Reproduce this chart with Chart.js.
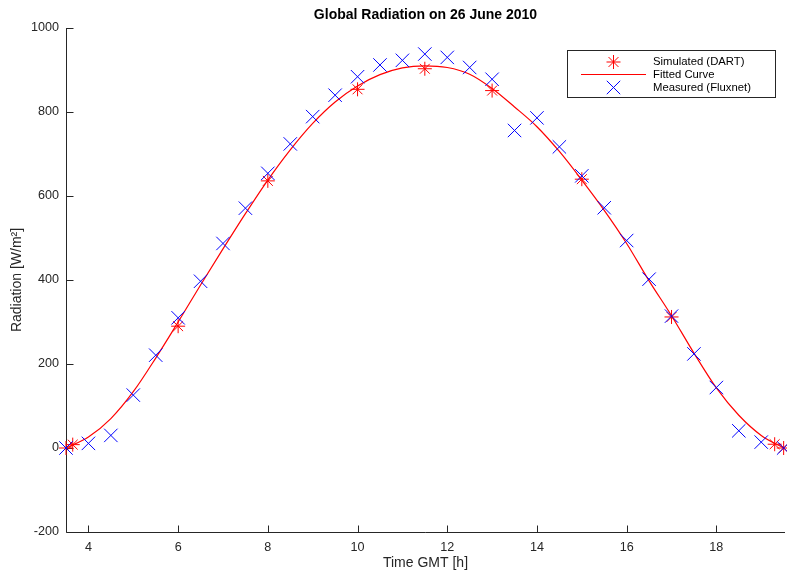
<!DOCTYPE html>
<html><head><meta charset="utf-8">
<script src="https://cdn.jsdelivr.net/npm/chart.js@4/dist/chart.umd.min.js"></script>
<style>html,body{margin:0;padding:0;background:#fff}#wrap{width:787px;height:573px}</style>
</head><body><div id="wrap"><canvas id="c" width="787" height="573"></canvas></div>
<script>
const chartTitle = 'Global Radiation on 26 June 2010';
const xAxisLabel = 'Time GMT [h]';
const yAxisLabel = 'Radiation [W/m²]';
const xTickValues = [4, 6, 8, 10, 12, 14, 16, 18];
const yTickValues = [-200, 0, 200, 400, 600, 800, 1000];
const seriesNames = ['Simulated (DART)', 'Fitted Curve', 'Measured (Fluxnet)'];

const simTimes  = [3.5, 3.65, 6, 8, 10, 11.5, 13, 15, 17, 19.3, 19.5];
const simValues = [0, 8, 290, 636, 854, 903, 851, 640, 312, 9, 0];

const fitTimes  = [3.5, 4, 4.5, 5, 5.5, 6, 6.5, 7, 7.5, 8, 8.5, 9, 9.5, 10, 10.5, 11, 11.5,
                   12, 12.5, 13, 13.5, 14, 14.5, 15, 15.5, 16, 16.5, 17, 17.5, 18, 18.5, 19, 19.5];
const fitValues = [0, 26, 70, 134, 214, 300, 388, 474, 558, 638, 710, 773, 824, 862, 889, 905, 910,
                   906, 890, 856, 812, 765, 706, 638, 566, 487, 398, 315, 226, 143, 78, 30, 0];

const measTimes  = [3.5, 4, 4.5, 5, 5.5, 6, 6.5, 7, 7.5, 8, 8.5, 9, 9.5, 10, 10.5, 11, 11.5,
                    12, 12.5, 13, 13.5, 14, 14.5, 15, 15.5, 16, 16.5, 17, 17.5, 18, 18.5, 19, 19.5];
const measValues = [0, 11, 30, 126, 221, 310, 397, 487, 571, 654, 724, 789, 840, 884, 912, 923, 938,
                    930, 906, 878, 756, 786, 717, 648, 572, 494, 402, 314, 224, 144, 41, 14, 0];

const FONT = '"Liberation Sans", Arial, Helvetica, sans-serif';
const AX = '#262626';
const RED = '#ff0000';
const BLUE = '#0000ff';

const toXY = (xs, ys) => xs.map((x, i) => ({x: x, y: ys[i]}));

const axesPlugin = {
  id: 'matlabAxes',
  beforeDatasetsDraw(chart) {
    const {ctx, chartArea: {left, right, top, bottom}, scales: {x, y}} = chart;
    ctx.save();
    ctx.strokeStyle = AX;
    ctx.lineWidth = 1;
    ctx.beginPath();
    const lx = Math.round(left) + 0.5, by = Math.round(bottom) + 0.5;
    ctx.moveTo(lx, top);
    ctx.lineTo(lx, by);
    ctx.lineTo(right, by);
    x.ticks.forEach(t => {
      const px = Math.round(x.getPixelForValue(t.value)) + 0.5;
      ctx.moveTo(px, by); ctx.lineTo(px, by - 7);
    });
    y.ticks.forEach(t => {
      const py = Math.round(y.getPixelForValue(t.value)) + 0.5;
      ctx.moveTo(lx, py); ctx.lineTo(lx + 7, py);
    });
    ctx.stroke();
    ctx.restore();
  }
};

function drawStar(ctx, cx, cy, r) {
  const d = r * Math.SQRT1_2;
  ctx.beginPath();
  ctx.moveTo(cx - r, cy); ctx.lineTo(cx + r, cy);
  ctx.moveTo(cx, cy - r); ctx.lineTo(cx, cy + r);
  ctx.moveTo(cx - d, cy - d); ctx.lineTo(cx + d, cy + d);
  ctx.moveTo(cx - d, cy + d); ctx.lineTo(cx + d, cy - d);
  ctx.stroke();
}
function drawX(ctx, cx, cy, r) {
  const d = r * Math.SQRT1_2;
  ctx.beginPath();
  ctx.moveTo(cx - d, cy - d); ctx.lineTo(cx + d, cy + d);
  ctx.moveTo(cx - d, cy + d); ctx.lineTo(cx + d, cy - d);
  ctx.stroke();
}

const legendPlugin = {
  id: 'matlabLegend',
  afterDraw(chart) {
    const ctx = chart.ctx;
    ctx.save();
    ctx.fillStyle = '#fff';
    ctx.fillRect(567.5, 50.5, 208, 47);
    ctx.strokeStyle = AX;
    ctx.lineWidth = 1;
    ctx.strokeRect(567.5, 50.5, 208, 47);
    const rows = [62, 74.5, 87.5];
    const ds = chart.data.datasets;
    ctx.strokeStyle = RED; ctx.lineWidth = 1;
    drawStar(ctx, 613.5, rows[0], 7);
    ctx.beginPath(); ctx.moveTo(581, rows[1]); ctx.lineTo(646, rows[1]); ctx.stroke();
    ctx.strokeStyle = BLUE;
    drawX(ctx, 613.5, rows[2], 9.5);
    ctx.fillStyle = '#000';
    ctx.font = '11.3px ' + FONT;
    ctx.textBaseline = 'middle';
    ctx.textAlign = 'left';
    const labels = [ds[2].label, ds[1].label, ds[0].label];
    labels.forEach((l, i) => ctx.fillText(l, 653, rows[i]));
    ctx.restore();
  }
};

new Chart(document.getElementById('c'), {
  type: 'scatter',
  data: {
    datasets: [
      {
        label: seriesNames[2],
        data: toXY(measTimes, measValues),
        showLine: false,
        pointStyle: 'crossRot',
        pointRadius: 9.5,
        pointHoverRadius: 9.5,
        borderColor: BLUE,
        backgroundColor: BLUE,
        pointBorderColor: BLUE,
        borderWidth: 1,
        clip: false
      },
      {
        label: seriesNames[1],
        data: toXY(fitTimes, fitValues),
        showLine: true,
        cubicInterpolationMode: 'monotone',
        pointRadius: 0,
        pointHoverRadius: 0,
        borderColor: RED,
        backgroundColor: RED,
        borderWidth: 1.2,
        fill: false,
        clip: false
      },
      {
        label: seriesNames[0],
        data: toXY(simTimes, simValues),
        showLine: false,
        pointStyle: 'star',
        pointRadius: 7,
        pointHoverRadius: 7,
        borderColor: RED,
        backgroundColor: RED,
        pointBorderColor: RED,
        borderWidth: 1,
        clip: false
      }
    ]
  },
  options: {
    responsive: false,
    animation: false,
    devicePixelRatio: 1,
    events: [],
    layout: {autoPadding: false, padding: {top: 0, right: 2, bottom: 0, left: 0}},
    plugins: {
      legend: {display: false},
      tooltip: {enabled: false},
      title: {
        display: true,
        fullSize: false,
        text: chartTitle,
        color: '#000',
        font: {family: FONT, size: 14, weight: 'bold'},
        padding: {top: 6.6, bottom: 4.6}
      }
    },
    scales: {
      x: {
        type: 'linear',
        min: 3.5,
        max: 19.53,
        afterBuildTicks: s => { s.ticks = xTickValues.map(v => ({value: v})); },
        afterFit: s => { s.height = 41; s.paddingLeft = 0; s.paddingRight = 0; },
        grid: {display: false, drawTicks: false},
        border: {display: false},
        ticks: {color: AX, font: {family: FONT, size: 12.6}, padding: 8, maxRotation: 0, autoSkip: false,
                callback: v => String(v)},
        title: {display: true, text: xAxisLabel, color: AX, font: {family: FONT, size: 14}, padding: {top: 0, bottom: 1.6}}
      },
      y: {
        type: 'linear',
        min: -200,
        max: 1000,
        afterBuildTicks: s => { s.ticks = yTickValues.map(v => ({value: v})); },
        afterFit: s => { s.width = 66; s.paddingTop = 0; s.paddingBottom = 0; },
        grid: {display: false, drawTicks: false},
        border: {display: false},
        ticks: {color: AX, font: {family: FONT, size: 12.6}, padding: 7, autoSkip: false,
                callback: v => String(v)},
        title: {display: true, text: yAxisLabel, color: AX, font: {family: FONT, size: 14}, padding: {top: 8.6, bottom: 0}}
      }
    }
  },
  plugins: [axesPlugin, legendPlugin]
});
</script>
</body></html>
